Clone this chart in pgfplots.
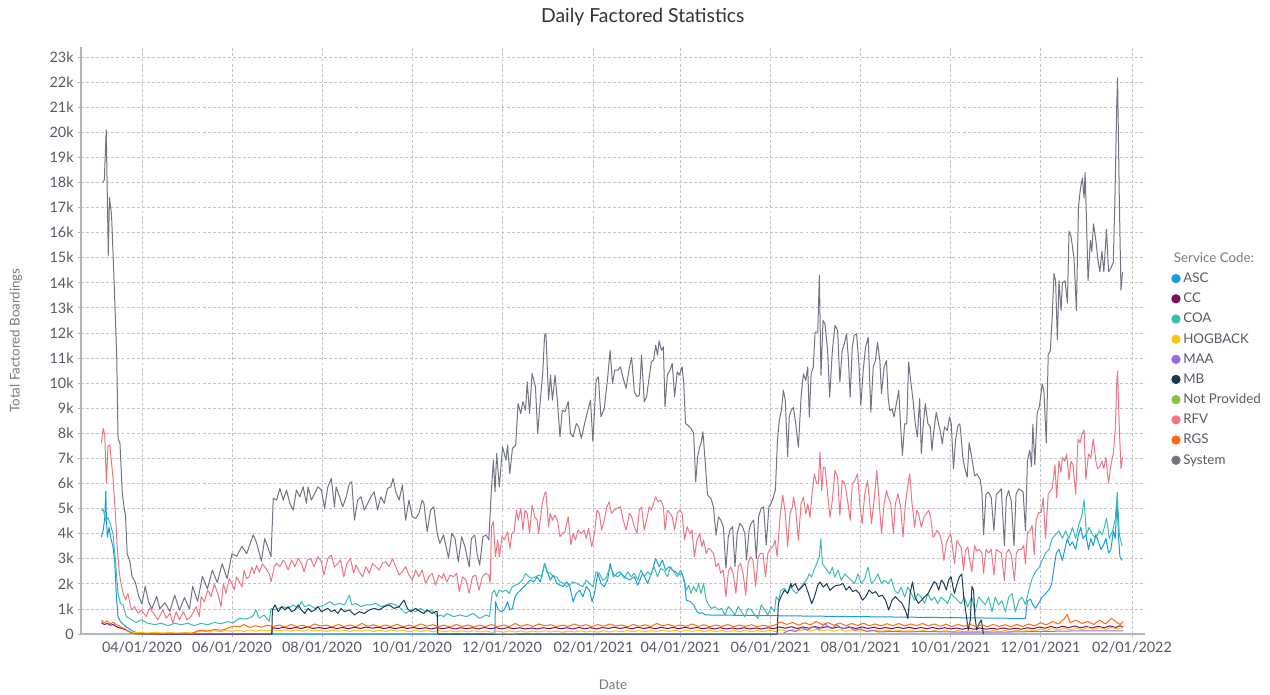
\documentclass[border=0pt]{standalone}
\usepackage{pgfplots}
\pgfplotsset{compat=1.18}
\usepackage{fontspec}
\setmainfont{Lato}
\definecolor{cASC}{HTML}{1A9BE0}
\definecolor{cCC}{HTML}{7D0E5C}
\definecolor{cCOA}{HTML}{3DBCB4}
\definecolor{cHOG}{HTML}{F5C518}
\definecolor{cMAA}{HTML}{9B6BDB}
\definecolor{cMB}{HTML}{1B3A57}
\definecolor{cNP}{HTML}{8CBF3F}
\definecolor{cRFV}{HTML}{EE7585}
\definecolor{cRGS}{HTML}{FF6A10}
\definecolor{cSYS}{HTML}{707480}
\definecolor{txt}{HTML}{555A64}
\definecolor{lbl}{HTML}{7A7A7A}
\definecolor{gridc}{HTML}{C4C4C4}
\definecolor{axc}{HTML}{B0B4BE}
\begin{document}
\begin{tikzpicture}
\path[use as bounding box] (-60.75pt,-45pt) rectangle (891.75pt,475.5pt);
\begin{axis}[
  scale only axis, width=798pt, height=440.25pt,
  xmin=49.7, xmax=770.8, ymin=0, ymax=23.4,
  axis x line*=bottom, axis y line*=left,
  axis line style={axc, line width=0.8pt},
  xtick={91,152,213,274,335,397,456,517,578,639,700,762},
  xticklabels={04/01/2020,06/01/2020,08/01/2020,10/01/2020,12/01/2020,02/01/2021,04/01/2021,06/01/2021,08/01/2021,10/01/2021,12/01/2021,02/01/2022},
  ytick={0,1,...,23},
  yticklabels={0,1k,2k,3k,4k,5k,6k,7k,8k,9k,10k,11k,12k,13k,14k,15k,16k,17k,18k,19k,20k,21k,22k,23k},
  tick align=outside, major tick length=2.5pt,
  tick style={axc, line width=0.6pt},
  ticklabel style={font=\fontsize{10.8}{12}\selectfont, text=txt},
  yticklabel style={xshift=0.5pt},
  grid=major,
  major grid style={gridc, line width=0.6pt, dash pattern=on 2.2pt off 1.6pt},
  title={Daily Factored Statistics},
  title style={at={(0.528,1)}, anchor=center, yshift=16.5pt, font=\fontsize{14.5}{16}\selectfont, text=black!80},
  xlabel={Date}, ylabel={Total Factored Boardings},
  every axis x label/.style={at={(axis description cs:0.5,-0.0869)}, anchor=center, font=\fontsize{10}{11}\selectfont, text=lbl},
  every axis y label/.style={at={(axis description cs:-0.0611,0.5)}, rotate=90, anchor=center, font=\fontsize{10}{11}\selectfont, text=lbl},
  legend style={at={(1.0245,0.655)}, anchor=north west, draw=none, fill=none, font=\fontsize{10}{11.5}\selectfont, text=txt, row sep=2.4pt, inner sep=0pt},
  legend cell align=left,
  legend image code/.code={\fill[#1] (0.1cm,0cm) circle (3.1pt);},
  every axis plot/.append style={line width=0.75pt, line join=round, mark=none},
]
\addlegendimage{empty legend}
\addlegendentry{\hspace*{-7pt}\textcolor{lbl}{Service Code:}}

% ASC
\addplot[cASC] coordinates {(63.5,3.86)(64.7,4.11)(65.8,4.64)(66.5,5.70)(66.9,4.64)(67.6,3.86)(68.7,4.25)(69.8,3.86)(71.4,3.46)(72.5,2.93)(73.7,1.49)(74.8,0.70)(76.4,0.50)(78.6,0.37)(81.5,0.24)(84.9,0.11)(88.3,0.04)(90.5,0.0)(330.2,0)(330.6,1.29)(332.1,1.02)(334.3,0.89)(336.6,0.96)(338.8,1.29)(340.3,0.96)(342.1,1.02)(343.9,1.49)(345.4,1.62)(347.7,1.75)(349.9,1.89)(352.1,2.02)(354.3,2.15)(356.6,2.08)(358.8,2.28)(361.0,2.08)(363.9,2.82)(365.4,2.55)(367.7,2.15)(369.9,2.35)(372.1,2.02)(374.3,1.95)(376.6,1.89)(378.8,2.08)(381.0,1.89)(383.2,1.29)(385.4,1.62)(387.7,1.75)(389.9,1.49)(392.1,1.89)(394.3,1.75)(396.1,1.29)(397.7,1.62)(399.9,2.42)(402.1,2.02)(404.3,1.89)(406.6,2.15)(408.3,2.82)(410.5,2.28)(413.2,2.42)(414.7,2.48)(418.0,2.28)(421.4,2.15)(424.7,2.28)(427.0,1.95)(430.3,2.42)(433.7,2.02)(437.0,2.55)(439.2,3.01)(441.5,2.68)(443.7,2.95)(445.9,2.55)(448.2,2.68)(450.4,2.55)(452.6,2.48)(454.9,2.35)(457.1,2.42)(458.7,2.02)(460.0,1.35)(462.7,1.29)(464.9,1.16)(467.2,0.89)(469.0,0.82)(470.5,0.85)(472.8,0.76)(689.8,0.62)(691.1,1.32)(693.2,1.39)(694.8,1.17)(696.6,1.03)(698.9,1.25)(701.1,1.47)(703.4,1.61)(705.7,1.76)(707.5,1.98)(709.1,2.64)(710.7,3.23)(712.5,3.37)(714.8,2.93)(715.9,3.23)(718.2,3.81)(719.8,3.52)(721.6,3.67)(723.8,3.37)(725.7,3.96)(727.3,4.25)(728.8,3.81)(730.7,3.96)(732.5,3.37)(734.1,3.81)(735.7,3.52)(737.5,3.96)(739.3,3.67)(740.9,3.37)(742.5,3.52)(744.3,3.81)(746.1,3.23)(747.7,3.37)(749.3,4.11)(750.6,3.81)(751.8,5.28)(752.9,3.81)(753.8,3.08)(755.2,2.93)};
\addlegendentry{ASC}

% CC
\addplot[cCC] coordinates {(63.5,0.45)(65.5,0.38)(67.5,0.42)(69.5,0.35)(71.5,0.38)(73.5,0.30)(75.5,0.25)(77.5,0.22)(79.5,0.18)(81.5,0.12)(83.5,0.06)(86,0.02)(100,0.0)(179,0.0)(179.5,0.25)(183,0.22)(187,0.27)(191,0.21)(195,0.26)(199,0.22)(203,0.28)(207,0.22)(211,0.26)(215,0.21)(219,0.27)(223,0.22)(227,0.26)(231,0.21)(235,0.27)(239,0.22)(243,0.28)(247,0.23)(251,0.27)(255,0.22)(259,0.26)(263,0.21)(267,0.27)(271,0.22)(275,0.26)(279,0.21)(283,0.25)(287,0.20)(291,0.25)(295,0.21)(299,0.26)(303,0.20)(307,0.25)(311,0.21)(315,0.25)(319,0.20)(323,0.26)(327,0.21)(331,0.25)(335,0.20)(339,0.26)(343,0.21)(347,0.25)(351,0.20)(355,0.24)(359,0.20)(363,0.25)(367,0.21)(371,0.26)(375,0.21)(379,0.25)(383,0.20)(387,0.26)(391,0.21)(395,0.25)(399,0.20)(403,0.26)(407,0.22)(411,0.27)(415,0.22)(419,0.26)(423,0.21)(427,0.27)(431,0.22)(435,0.26)(439,0.21)(443,0.27)(447,0.22)(451,0.26)(455,0.21)(459,0.27)(463,0.22)(467,0.26)(471,0.21)(475,0.25)(479,0.20)(483,0.25)(487,0.20)(491,0.24)(495,0.20)(499,0.25)(503,0.20)(507,0.24)(511,0.20)(515,0.25)(519,0.21)(523,0.28)(527,0.23)(531,0.29)(535,0.22)(539,0.28)(543,0.23)(547,0.30)(551,0.24)(555,0.29)(559,0.23)(563,0.28)(567,0.22)(571,0.27)(575,0.22)(579,0.28)(583,0.22)(587,0.27)(591,0.21)(595,0.26)(599,0.21)(603,0.27)(607,0.22)(611,0.27)(615,0.21)(619,0.26)(623,0.21)(627,0.26)(631,0.20)(635,0.25)(639,0.20)(643,0.24)(647,0.19)(651,0.24)(655,0.19)(659,0.24)(663,0.19)(667,0.23)(671,0.19)(675,0.24)(679,0.19)(683,0.23)(687,0.19)(691,0.25)(695,0.21)(699,0.28)(703,0.23)(707,0.30)(711,0.24)(715,0.31)(719,0.25)(723,0.32)(727,0.25)(731,0.30)(735,0.24)(739,0.31)(743,0.25)(747,0.32)(751,0.26)(754,0.33)(756,0.28)};
\addlegendentry{CC}

% COA
\addplot[cCOA] coordinates {(63.5,4.91)(64.7,4.97)(66.5,4.51)(68.0,4.64)(69.6,4.38)(71.4,3.99)(73.2,2.80)(74.8,1.62)(76.4,1.22)(78.2,1.16)(80.4,0.70)(83.8,0.57)(87.2,0.46)(90.5,0.57)(95.1,0.43)(99.6,0.37)(104.1,0.43)(108.6,0.33)(113.1,0.43)(117.6,0.37)(122.1,0.43)(126.6,0.33)(131.1,0.43)(135.6,0.37)(140.1,0.46)(144.6,0.41)(149.1,0.50)(152.5,0.43)(157.0,0.63)(161.5,0.59)(166.0,0.70)(168.2,0.96)(170.5,0.63)(173.8,0.76)(177.2,0.50)(178.5,1.02)(180.7,0.96)(183.4,1.02)(186.8,1.09)(190.1,1.02)(193.5,1.16)(196.9,1.02)(199.1,1.29)(201.3,1.09)(204.7,1.16)(208.1,1.02)(211.4,1.09)(214.8,1.16)(218.2,1.29)(221.5,1.16)(224.9,1.22)(228.3,1.16)(231.6,1.55)(233.2,1.16)(236.1,1.22)(239.5,1.09)(242.8,1.16)(246.2,1.16)(249.6,1.22)(252.9,1.09)(256.3,1.16)(259.7,1.22)(263.0,1.16)(266.4,1.02)(269.7,0.82)(273.1,0.96)(276.5,0.89)(279.8,1.02)(283.2,0.89)(286.6,0.96)(288.8,0.89)(291.1,0.69)(293.3,0.76)(295.5,0.69)(297.7,0.82)(302.1,0.69)(306.6,0.76)(311.0,0.69)(315.4,0.82)(319.9,0.62)(324.3,0.76)(326.6,0.69)(328.3,1.62)(329.9,1.75)(331.4,1.49)(333.2,1.75)(335.4,1.69)(337.7,1.75)(339.9,1.62)(342.1,1.89)(344.3,1.95)(346.6,2.02)(348.8,2.15)(351.0,2.42)(353.2,2.28)(355.4,2.22)(357.7,2.28)(359.9,2.35)(362.1,2.28)(363.9,2.82)(365.4,2.48)(367.7,2.42)(369.9,2.28)(372.1,2.28)(374.3,2.08)(376.6,2.02)(378.8,1.89)(381.0,1.95)(383.2,2.08)(385.4,2.02)(387.7,1.95)(389.9,1.89)(392.1,2.15)(394.3,2.02)(396.6,1.89)(398.8,2.48)(401.0,2.42)(403.2,2.15)(405.4,2.22)(408.3,2.68)(411.0,2.35)(413.6,2.28)(415.8,2.42)(418.0,2.22)(420.3,2.48)(422.5,2.28)(424.7,2.42)(427.0,2.15)(429.2,2.55)(431.4,2.28)(433.7,2.48)(435.9,2.35)(438.1,2.68)(440.4,2.28)(442.6,2.62)(444.8,2.55)(447.1,2.28)(449.3,2.68)(451.5,2.48)(453.8,2.28)(456.0,2.55)(458.2,2.22)(460.0,1.75)(461.6,1.95)(463.1,1.62)(464.9,1.89)(466.7,1.69)(468.3,2.02)(469.9,1.62)(471.6,2.02)(473.4,1.35)(475.0,1.16)(477.2,1.02)(479.5,1.09)(481.7,0.96)(483.9,1.02)(486.2,0.76)(488.4,1.09)(490.6,0.96)(492.9,0.76)(495.1,1.09)(497.3,0.89)(499.6,0.69)(501.8,1.02)(504.0,0.96)(506.3,0.76)(508.5,0.62)(510.7,1.16)(513.0,0.96)(515.2,0.76)(517.4,1.09)(519.7,0.89)(520.8,1.49)(522.3,1.35)(524.1,1.75)(526.4,1.82)(528.6,1.62)(530.8,1.89)(532.4,1.74)(534.7,1.61)(536.9,1.81)(539.2,2.01)(541.4,2.14)(543.2,2.40)(544.8,2.27)(546.4,2.54)(548.2,2.80)(550.0,3.07)(551.1,3.80)(552.2,2.80)(553.8,2.67)(555.4,2.54)(557.2,2.40)(559.0,2.67)(560.5,2.27)(562.8,2.54)(565.0,2.14)(567.3,2.40)(569.5,2.27)(571.8,2.14)(574.0,2.01)(576.3,2.40)(578.5,2.01)(580.8,2.20)(583.1,2.67)(585.3,2.01)(587.6,2.14)(589.8,2.40)(592.1,2.01)(594.3,2.14)(596.6,2.01)(598.8,2.20)(601.1,1.74)(603.3,1.61)(605.6,1.87)(607.9,1.47)(610.1,1.87)(612.4,1.61)(614.6,1.34)(616.9,1.61)(619.1,1.47)(621.4,1.21)(623.6,1.61)(625.9,1.34)(628.1,1.47)(630.3,1.21)(632.6,1.47)(634.9,1.34)(637.1,1.21)(639.4,1.61)(641.6,1.47)(643.8,1.34)(646.1,1.21)(648.4,1.47)(650.6,1.08)(653.4,1.47)(655.7,0.88)(658.0,1.47)(660.3,1.32)(662.5,1.17)(664.8,1.47)(667.1,0.88)(669.3,1.47)(671.6,1.17)(673.9,1.32)(676.2,0.88)(678.4,1.47)(680.7,1.61)(683.0,0.88)(685.2,1.32)(687.5,1.47)(689.8,1.17)(692.1,1.76)(694.3,2.20)(696.6,2.49)(698.9,2.64)(701.1,2.93)(703.4,3.23)(705.7,3.37)(707.9,3.81)(710.2,3.96)(712.5,4.11)(714.8,3.81)(717.0,4.11)(719.3,3.81)(721.6,4.25)(723.8,3.81)(726.1,4.40)(727.9,4.69)(729.5,5.35)(731.1,3.96)(732.9,4.25)(735.2,3.96)(737.5,3.81)(739.7,4.11)(742.0,3.96)(744.7,4.62)(746.6,3.81)(748.8,4.11)(750.6,4.55)(752.0,5.65)(753.4,3.96)(755.2,3.52)};
\addlegendentry{COA}

% HOGBACK
\addplot[cHOG] coordinates {(84,0.05)(90,0.06)(95,0.04)(100,0.07)(105,0.04)(110,0.06)(115,0.03)(120,0.06)(125,0.04)(128,0.08)(132,0.12)(136,0.08)(140,0.13)(144,0.09)(148,0.14)(152,0.10)(156,0.15)(160,0.10)(164,0.16)(168,0.11)(172,0.16)(176,0.12)(180,0.17)(184,0.12)(188,0.17)(192,0.11)(196,0.16)(200,0.11)(204,0.17)(208,0.12)(212,0.16)(216,0.10)(220,0.16)(224,0.11)(228,0.15)(232,0.10)(236,0.16)(240,0.11)(244,0.16)(248,0.10)(252,0.15)(256,0.10)(260,0.16)(264,0.11)(268,0.15)(272,0.09)(276,0.15)(280,0.10)(284,0.14)(288,0.09)(292,0.14)(296,0.09)(300,0.13)(304,0.08)(308,0.13)(312,0.08)(316,0.13)(320,0.08)(324,0.12)(328,0.07)(332,0.12)(336,0.07)(340,0.13)(344,0.08)(348,0.12)(352,0.07)(356,0.12)(360,0.08)(364,0.13)(368,0.08)(372,0.12)(376,0.07)(380,0.12)(384,0.08)(388,0.13)(392,0.08)(396,0.12)(400,0.07)(404,0.13)(408,0.08)(412,0.13)(416,0.09)(420,0.14)(424,0.09)(428,0.14)(432,0.09)(436,0.14)(440,0.10)(444,0.15)(448,0.10)(452,0.15)(456,0.10)(460,0.15)(464,0.10)(468,0.15)(472,0.10)(476,0.15)(480,0.09)(484,0.14)(488,0.09)(492,0.14)(496,0.09)(500,0.14)(504,0.09)(508,0.14)(512,0.09)(516,0.15)(520,0.10)(524,0.17)(528,0.11)(532,0.18)(536,0.12)(540,0.18)(544,0.11)(548,0.18)(552,0.12)(556,0.17)(560,0.11)(564,0.17)(568,0.11)(572,0.17)(576,0.11)(580,0.16)(584,0.10)(588,0.16)(592,0.10)(596,0.16)(600,0.10)(604,0.15)(608,0.10)(612,0.15)(616,0.09)(620,0.15)(624,0.09)(628,0.14)(632,0.09)(636,0.14)(640,0.08)(644,0.14)(648,0.08)(652,0.13)(656,0.08)(660,0.13)(664,0.08)(668,0.14)(672,0.09)(676,0.14)(680,0.09)(684,0.15)(688,0.10)(692,0.17)(696,0.12)(700,0.20)(704,0.14)(708,0.22)(712,0.15)(716,0.24)(720,0.16)(724,0.25)(728,0.17)(732,0.26)(736,0.18)(740,0.26)(744,0.18)(748,0.27)(752,0.20)(756,0.28)};
\addlegendentry{HOGBACK}

% MAA
\addplot[cMAA] coordinates {(526,0.05)(530,0.15)(534,0.10)(538,0.25)(542,0.15)(546,0.30)(550,0.18)(554,0.40)(558,0.22)(562,0.35)(566,0.20)(570,0.30)(574,0.15)(578,0.20)(582,0.10)(586,0.15)(590,0.08)(600,0.10)(610,0.08)(620,0.10)(640,0.08)(660,0.08)(680,0.08)(700,0.10)(720,0.12)(740,0.12)(756,0.12)};
\addlegendentry{MAA}

% MB
\addplot[cMB] coordinates {(179.0,0)(179.4,0.96)(181.2,1.16)(183.4,0.89)(185.6,1.09)(187.9,0.96)(190.1,1.09)(192.4,0.89)(194.6,0.96)(196.9,1.16)(199.1,0.96)(201.3,0.82)(203.6,1.02)(205.8,0.89)(208.1,0.96)(210.3,1.09)(212.6,0.89)(214.8,0.96)(217.0,1.02)(219.3,0.89)(221.5,0.96)(223.8,0.82)(226.0,1.02)(228.3,0.89)(231.6,0.96)(235.0,0.76)(238.3,0.89)(241.7,0.82)(245.1,0.96)(248.4,1.02)(251.8,0.96)(255.2,1.09)(258.5,1.16)(261.9,1.02)(265.3,1.09)(268.6,1.35)(270.9,1.02)(273.1,0.89)(276.5,1.02)(279.8,0.89)(282.1,0.82)(284.3,0.96)(287.7,0.82)(289.9,0.89)(291.1,0.89)(291.5,0)(521.5,0)(522.3,1.22)(524.1,1.49)(526.4,1.75)(528.6,1.62)(530.8,2.02)(531.4,1.87)(533.7,2.01)(535.9,1.74)(538.2,1.87)(540.4,2.01)(542.7,1.61)(544.9,1.21)(546.7,1.47)(549.0,1.94)(550.5,2.07)(552.8,1.87)(555.0,2.01)(557.3,1.74)(559.5,1.87)(561.8,1.94)(563.8,1.95)(566.0,2.02)(568.2,1.75)(570.4,1.89)(572.7,1.69)(574.9,1.75)(577.1,1.62)(579.3,1.35)(581.6,1.49)(583.8,1.75)(586.0,1.62)(588.2,1.69)(590.5,1.49)(592.7,1.55)(594.9,1.35)(597.1,0.96)(599.4,1.35)(601.6,1.49)(603.8,1.35)(606.1,1.22)(608.3,0.96)(610.1,0.62)(611.6,1.62)(613.2,2.08)(614.9,1.49)(617.2,1.22)(619.4,1.35)(621.6,1.49)(623.9,1.62)(626.1,1.89)(627.9,2.08)(629.4,2.02)(631.0,1.75)(632.8,2.15)(634.5,2.02)(636.1,1.75)(637.7,2.15)(639.4,2.28)(640.6,1.89)(641.7,1.62)(643.5,2.02)(645.0,2.28)(646.6,2.39)(647.9,1.49)(649.5,0.82)(651.0,0.16)(652.4,0.56)(653.5,1.89)(654.6,1.75)(655.5,0.69)(656.8,0.16)(658.4,0.42)(659.9,0.56)(661.3,0)};
\addlegendentry{MB}

% Not Provided
\addplot[cNP] coordinates {(330,0.01)(338,0.02)(345,0.01)};
\addlegendentry{Not Provided}

% RFV
\addplot[cRFV] coordinates {(63.5,7.61)(64.7,8.20)(65.8,7.93)(66.9,6.03)(68.0,7.47)(69.2,7.54)(71.4,6.22)(73.2,4.64)(74.1,3.59)(75.5,2.54)(76.4,2.14)(78.2,1.62)(80.0,1.36)(81.5,1.62)(83.8,0.96)(86.0,1.09)(88.3,0.83)(90.5,0.96)(93.9,0.70)(96.2,1.03)(98.9,0.83)(101.8,0.57)(105.2,0.96)(107.4,0.63)(110.1,0.83)(111.9,0.43)(114.2,0.89)(116.4,0.57)(119.1,0.89)(121.4,0.57)(124.3,0.70)(127.7,1.09)(129.9,0.70)(131.1,1.49)(133.3,1.29)(135.6,1.75)(137.8,1.49)(140.1,2.01)(142.3,1.62)(144.6,1.09)(146.2,2.01)(147.9,1.62)(150.2,2.21)(152.0,2.01)(153.6,1.75)(155.2,2.28)(157.0,2.08)(158.8,1.88)(160.3,2.54)(161.9,2.21)(163.7,2.28)(165.5,2.67)(167.1,2.41)(168.7,2.74)(170.5,2.47)(172.7,2.80)(175.0,2.61)(177.2,2.41)(178.5,2.08)(180.7,2.68)(182.3,2.82)(184.5,2.68)(186.8,2.95)(188.3,2.82)(190.1,2.55)(192.4,2.95)(194.6,2.68)(196.9,3.01)(199.1,2.82)(200.9,2.48)(203.1,2.95)(205.4,3.01)(207.6,2.68)(210.3,3.08)(212.6,2.88)(214.3,2.35)(217.0,3.01)(219.3,3.15)(221.5,2.68)(223.8,2.82)(225.6,2.95)(227.8,2.28)(230.0,2.82)(232.3,3.01)(234.5,2.42)(236.1,2.75)(238.3,2.48)(240.6,2.28)(242.8,2.68)(245.1,2.42)(247.3,2.82)(249.6,2.68)(251.8,2.55)(254.0,2.82)(256.3,2.88)(258.5,2.68)(260.8,3.01)(263.0,2.68)(265.3,2.35)(267.5,2.48)(269.7,2.68)(272.0,2.35)(274.2,2.15)(276.5,2.55)(278.7,2.28)(280.9,2.55)(283.2,2.02)(285.4,2.28)(287.7,2.42)(289.9,1.95)(292.2,2.35)(294.4,2.22)(295.4,2.42)(297.7,2.08)(299.9,2.35)(302.1,2.28)(304.3,2.42)(306.1,1.69)(308.3,2.28)(310.6,2.15)(312.8,1.62)(315.0,2.28)(317.2,2.35)(319.4,1.75)(321.7,2.28)(323.9,2.42)(326.1,2.35)(327.0,2.02)(327.9,4.28)(329.2,4.48)(330.6,3.08)(332.1,3.75)(333.2,3.08)(335.0,3.88)(336.6,3.75)(338.8,4.08)(340.3,3.41)(341.7,4.01)(343.2,4.08)(344.8,4.94)(346.1,4.54)(347.7,5.01)(349.2,4.14)(350.6,4.94)(352.1,4.81)(353.7,4.01)(355.4,5.14)(357.2,4.67)(358.8,4.54)(359.9,4.01)(362.1,5.14)(363.9,5.60)(364.8,5.67)(366.6,4.28)(367.7,4.81)(369.2,4.54)(371.0,4.74)(372.8,4.48)(374.3,3.88)(375.9,4.01)(377.7,4.08)(379.9,4.67)(381.7,3.55)(383.2,4.01)(384.8,3.75)(386.6,4.14)(388.8,4.01)(390.6,4.14)(392.1,3.81)(393.7,4.21)(395.9,3.48)(397.7,4.01)(399.4,4.94)(401.0,4.81)(402.5,4.14)(404.3,4.54)(406.1,5.07)(407.7,5.27)(409.2,4.81)(411.0,4.94)(413.2,5.01)(415.3,5.07)(416.9,4.61)(419.1,4.14)(421.4,4.81)(422.9,4.67)(424.7,4.28)(426.5,4.01)(428.1,4.94)(429.6,5.07)(431.4,4.14)(433.0,4.54)(434.8,5.07)(436.3,4.94)(437.7,5.21)(439.2,5.47)(440.7,5.27)(442.6,5.34)(444.4,5.07)(445.5,4.14)(447.1,4.94)(448.9,4.81)(450.4,4.67)(452.0,4.14)(453.8,4.81)(455.6,4.94)(457.1,4.81)(458.7,3.75)(460.5,4.28)(462.3,4.01)(463.8,4.14)(465.4,3.08)(467.2,3.75)(469.0,4.01)(470.5,3.48)(471.6,3.75)(473.4,3.21)(475.0,3.41)(476.6,3.35)(478.3,3.21)(480.1,2.68)(481.7,2.82)(483.3,2.42)(485.0,2.55)(486.8,1.49)(488.4,2.48)(490.0,2.68)(491.7,2.42)(493.5,1.62)(495.1,2.68)(496.7,2.82)(498.4,2.42)(500.2,1.55)(501.8,2.82)(503.4,3.08)(505.1,2.95)(506.9,1.89)(508.5,3.01)(510.1,3.21)(511.9,3.21)(513.6,2.28)(515.2,3.21)(516.8,3.41)(518.6,3.48)(520.1,3.75)(521.5,3.08)(522.6,4.01)(523.7,4.81)(525.3,5.54)(527.0,4.81)(528.6,3.48)(530.2,4.81)(531.9,5.07)(532.5,5.46)(534.1,4.93)(535.9,3.73)(537.7,5.19)(539.3,5.46)(540.9,4.79)(542.2,5.19)(543.8,4.66)(544.9,5.46)(546.7,6.39)(548.3,5.99)(549.4,5.99)(550.5,7.25)(551.7,5.72)(552.8,6.65)(553.9,6.65)(555.7,5.59)(557.3,4.66)(558.9,5.33)(560.7,6.52)(562.5,6.25)(564.0,4.73)(565.6,6.12)(567.4,5.99)(569.2,5.33)(571.0,4.53)(572.4,5.99)(574.2,6.12)(576.0,6.39)(577.5,5.19)(579.1,4.40)(580.9,5.59)(582.7,6.12)(584.3,5.19)(585.4,4.40)(587.2,5.33)(589.0,6.52)(590.4,5.46)(592.2,4.00)(594.0,5.19)(595.6,5.72)(596.7,5.46)(598.5,5.19)(600.3,4.00)(601.6,5.19)(603.4,5.59)(605.2,5.06)(606.8,3.86)(608.4,5.19)(610.2,5.99)(611.3,6.39)(612.9,5.19)(614.7,4.26)(616.1,4.93)(617.4,4.79)(619.2,4.26)(621.0,4.66)(622.6,4.79)(624.2,4.93)(625.5,4.66)(627.1,3.86)(628.2,3.92)(629.8,4.13)(631.6,4.00)(633.2,3.60)(634.5,2.93)(636.1,3.60)(637.7,3.86)(639.1,4.00)(640.6,3.33)(641.8,2.80)(643.3,3.73)(644.5,3.60)(646.2,3.47)(647.8,2.54)(649.1,3.33)(650.7,3.47)(651.6,3.08)(653.4,2.49)(655.3,3.52)(656.9,3.30)(658.4,3.37)(660.3,3.23)(661.4,2.42)(663.0,3.37)(664.8,3.23)(666.6,3.37)(668.4,2.35)(670.0,3.37)(671.6,3.30)(673.4,3.23)(675.5,2.13)(676.8,3.23)(678.4,3.37)(680.2,3.15)(682.3,2.13)(683.6,3.23)(685.2,3.37)(687.1,3.37)(688.6,3.52)(689.8,2.79)(691.1,4.03)(692.7,4.11)(694.3,4.33)(695.7,3.15)(697.0,4.55)(698.9,4.84)(700.5,4.84)(701.8,5.43)(703.4,3.81)(705.2,5.57)(706.8,5.72)(707.9,5.79)(709.8,6.74)(710.9,5.43)(712.5,6.89)(713.9,6.45)(714.8,7.04)(716.4,6.89)(717.7,7.18)(719.3,6.16)(720.7,6.89)(722.0,6.74)(723.8,5.57)(725.4,7.77)(726.8,7.62)(727.9,7.92)(729.5,8.14)(730.7,6.16)(732.5,7.18)(734.1,7.04)(735.7,7.77)(737.5,6.89)(738.6,6.60)(740.2,6.67)(741.6,6.89)(742.9,6.60)(744.3,7.04)(746.1,6.01)(747.7,6.74)(749.3,7.18)(750.7,8.21)(751.6,9.97)(752.2,10.48)(753.4,8.21)(754.5,6.60)(755.6,7.04)};
\addlegendentry{RFV}

% RGS
\addplot[cRGS] coordinates {(63.5,0.55)(65.5,0.45)(67.5,0.52)(69.5,0.40)(71.5,0.47)(73.5,0.38)(75.5,0.33)(77.5,0.25)(79.5,0.20)(81.5,0.12)(83.5,0.05)(86,0.01)(95,0.0)(110,0.02)(125,0.03)(130,0.15)(135,0.12)(140,0.18)(145,0.15)(150,0.25)(153,0.32)(157,0.28)(160,0.38)(164,0.26)(168,0.33)(172,0.27)(176,0.35)(180,0.30)(184,0.36)(188,0.28)(192,0.38)(196,0.30)(200,0.35)(204,0.27)(208,0.40)(212,0.32)(216,0.36)(220,0.28)(224,0.38)(228,0.30)(232,0.36)(236,0.29)(240,0.42)(244,0.31)(248,0.37)(252,0.28)(256,0.36)(260,0.30)(264,0.39)(268,0.29)(272,0.36)(276,0.30)(280,0.40)(284,0.31)(288,0.37)(292,0.30)(296,0.35)(300,0.28)(304,0.38)(308,0.30)(312,0.36)(316,0.28)(320,0.35)(324,0.30)(328,0.38)(332,0.29)(336,0.36)(340,0.30)(344,0.42)(348,0.31)(352,0.38)(356,0.30)(360,0.40)(364,0.33)(368,0.37)(372,0.29)(376,0.36)(380,0.30)(384,0.40)(388,0.31)(392,0.37)(396,0.29)(400,0.38)(404,0.31)(408,0.40)(412,0.32)(416,0.36)(420,0.29)(424,0.38)(428,0.31)(432,0.37)(436,0.30)(440,0.42)(444,0.33)(448,0.38)(452,0.30)(456,0.36)(460,0.31)(464,0.40)(468,0.30)(472,0.37)(476,0.29)(480,0.36)(484,0.30)(488,0.38)(492,0.29)(496,0.36)(500,0.30)(504,0.37)(508,0.29)(512,0.35)(516,0.30)(520,0.36)(524,0.48)(528,0.38)(532,0.46)(536,0.35)(540,0.45)(544,0.36)(548,0.50)(552,0.38)(556,0.45)(560,0.35)(564,0.44)(568,0.33)(572,0.42)(576,0.34)(580,0.43)(584,0.33)(588,0.40)(592,0.32)(596,0.41)(600,0.33)(604,0.42)(608,0.32)(612,0.40)(616,0.33)(620,0.42)(624,0.32)(628,0.40)(632,0.31)(636,0.39)(640,0.30)(644,0.38)(648,0.31)(652,0.39)(656,0.30)(660,0.37)(664,0.29)(668,0.38)(672,0.30)(676,0.37)(680,0.29)(684,0.38)(688,0.30)(692,0.40)(696,0.32)(700,0.45)(704,0.36)(708,0.50)(712,0.40)(716,0.60)(718,0.78)(720,0.45)(724,0.55)(728,0.42)(732,0.50)(736,0.38)(740,0.55)(744,0.40)(748,0.62)(752,0.45)(754,0.38)(756,0.50)};
\addlegendentry{RGS}

% System
\addplot[cSYS] coordinates {(64.4,18.0)(65.5,18.1)(66.8,20.1)(68.2,15.1)(69.0,17.4)(70.4,16.7)(72.1,14.1)(73.9,11.1)(74.8,7.8)(76.1,7.6)(77.7,5.6)(78.8,5.1)(79.9,4.7)(81.0,3.2)(82.8,2.9)(84.3,2.3)(86.6,2.05)(88.8,1.5)(91,1.2)(93.2,1.9)(95.4,1.3)(97.7,1.0)(101,1.5)(103.2,1.0)(106.5,1.25)(109.9,0.9)(113.2,1.55)(116.5,0.95)(119.8,1.45)(123.2,1.0)(125.4,1.9)(128.7,1.3)(132,2.3)(135.4,1.8)(138.7,2.55)(142,2.05)(145.4,2.8)(148.7,2.2)(152,3.2)(155.3,3.1)(158.7,3.5)(162,3.2)(166.4,3.95)(168.6,3.65)(172,2.9)(174.2,3.8)(176.4,3.45)(178.5,3.08)(180.0,5.41)(182.3,5.34)(184.5,5.80)(186.8,5.34)(189.0,5.74)(191.2,5.21)(193.5,4.94)(195.7,5.74)(198.0,5.47)(200.2,5.87)(202.5,5.21)(203.6,5.87)(205.8,5.34)(208.1,5.61)(210.3,5.87)(212.6,5.74)(214.8,5.01)(217.0,5.87)(219.3,6.20)(221.5,5.07)(222.6,5.87)(224.9,5.47)(227.1,5.07)(229.4,5.47)(231.6,6.00)(233.2,6.07)(235.0,4.54)(237.2,5.34)(239.5,5.47)(241.7,4.94)(244.0,5.21)(246.2,5.47)(248.4,5.67)(250.7,4.94)(252.9,5.47)(255.2,5.21)(257.4,5.80)(259.7,5.87)(261.2,6.20)(263.0,5.67)(265.3,5.34)(267.5,5.94)(269.7,4.54)(272.0,5.34)(274.2,4.67)(276.5,4.61)(278.7,4.81)(280.9,5.34)(282.1,5.21)(284.3,4.08)(286.6,4.94)(288.8,5.07)(291.1,4.01)(292.9,3.61)(295.4,3.95)(298.8,3.02)(301.0,4.01)(303.2,3.81)(305.4,2.88)(307.7,3.88)(309.9,3.48)(312.8,2.68)(314.3,3.81)(316.6,3.95)(318.1,3.21)(319.9,2.75)(322.1,3.88)(324.3,3.95)(326.1,3.75)(327.7,5.60)(329.2,6.93)(330.3,5.67)(331.4,7.20)(333.2,5.87)(335.4,7.46)(337.7,6.93)(338.8,7.53)(340.3,6.40)(342.1,7.40)(344.3,7.53)(345.9,9.19)(347.7,8.79)(349.2,9.26)(351.0,8.92)(352.1,10.05)(353.7,8.79)(355.4,10.39)(357.7,9.85)(359.2,8.00)(361.0,9.32)(362.6,10.39)(363.9,11.91)(364.8,11.98)(366.6,9.32)(367.9,10.32)(369.2,9.32)(371.0,10.32)(372.6,9.26)(374.3,7.86)(375.9,8.92)(377.7,8.86)(379.9,9.26)(381.4,8.00)(383.2,7.86)(385.4,8.39)(387.0,8.26)(388.8,7.80)(391.0,8.39)(393.2,8.92)(395.0,9.32)(396.6,7.66)(398.8,10.12)(400.3,10.25)(402.1,8.66)(404.3,8.99)(406.6,10.19)(408.3,11.31)(409.9,9.99)(411.4,10.52)(413.6,10.52)(415.3,10.65)(416.9,10.25)(419.1,9.79)(421.4,10.65)(422.9,11.02)(424.7,9.65)(426.5,9.46)(428.1,9.52)(429.6,11.12)(431.4,9.26)(433.0,9.46)(434.8,10.25)(436.3,10.85)(437.7,10.92)(439.2,11.51)(440.4,11.12)(441.5,11.69)(443.0,11.31)(444.4,11.45)(445.5,9.06)(447.1,10.32)(448.9,10.52)(450.4,10.78)(452.0,9.46)(453.8,10.45)(455.1,10.32)(457.1,10.65)(458.2,9.99)(459.4,8.39)(460.9,8.33)(463.1,8.19)(464.9,8.00)(466.3,6.07)(467.6,7.07)(469.0,7.46)(469.9,7.60)(471.2,8.06)(472.8,6.80)(474.3,5.54)(476.6,5.41)(478.3,5.07)(480.1,3.94)(481.7,4.67)(483.3,4.54)(485.0,4.28)(486.8,2.62)(488.4,3.88)(489.5,4.14)(491.3,4.28)(492.9,2.68)(494.4,4.01)(496.2,4.41)(498.0,4.28)(499.6,4.01)(500.7,2.95)(502.5,4.14)(503.8,4.41)(505.6,4.54)(507.4,3.01)(508.9,4.67)(510.7,5.01)(512.3,5.07)(514.1,3.55)(515.9,5.07)(517.4,5.21)(519.0,5.47)(520.3,5.74)(521.7,7.73)(523.0,8.53)(524.4,8.92)(525.7,9.72)(527.0,9.32)(528.6,7.07)(529.7,8.66)(531.0,8.91)(532.5,9.04)(534.1,8.38)(535.9,7.45)(537.7,9.44)(539.3,10.37)(540.9,10.11)(542.2,10.64)(543.3,8.65)(544.5,10.37)(546.0,10.64)(547.2,12.03)(549.0,12.03)(550.1,14.29)(551.2,10.31)(552.6,12.50)(553.9,12.36)(555.7,11.30)(557.1,9.44)(558.9,11.30)(560.7,12.30)(562.5,12.10)(564.0,10.04)(565.6,11.30)(567.0,11.57)(568.5,11.97)(569.7,11.04)(571.0,9.44)(572.4,11.43)(573.7,11.90)(575.3,11.97)(576.9,10.77)(578.2,9.11)(579.8,10.50)(581.4,11.43)(583.2,11.83)(585.0,8.84)(586.6,10.64)(588.1,10.90)(589.5,11.63)(591.1,10.90)(592.2,9.58)(594.0,10.64)(595.6,10.90)(596.7,9.44)(597.8,8.91)(599.4,8.98)(600.7,8.65)(602.3,9.18)(603.9,9.71)(605.2,8.25)(606.4,7.12)(607.9,8.38)(609.3,8.38)(610.6,10.84)(612.0,10.11)(613.6,9.31)(615.1,8.38)(616.5,7.85)(618.1,9.38)(619.2,7.18)(620.3,8.18)(621.9,9.18)(623.7,8.38)(625.3,8.25)(626.4,7.32)(627.7,8.11)(629.3,8.84)(630.9,8.38)(632.2,8.05)(633.4,7.58)(634.9,8.25)(636.8,8.11)(638.3,8.65)(639.5,8.38)(641.0,6.59)(642.4,7.72)(644.0,8.31)(645.3,8.38)(646.2,7.85)(647.3,7.05)(648.5,6.65)(650.3,6.25)(651.6,7.62)(653.4,7.04)(655.3,6.30)(656.9,6.38)(659.1,6.16)(660.3,5.65)(661.4,3.96)(663.0,5.57)(664.8,5.65)(666.6,5.43)(668.4,4.11)(670.0,5.57)(671.6,5.65)(673.4,5.79)(675.5,3.52)(676.8,5.43)(678.4,5.72)(680.2,5.28)(682.0,3.52)(683.4,5.57)(685.2,5.79)(687.1,5.72)(688.2,5.65)(689.8,4.11)(691.1,6.89)(692.7,7.33)(693.9,6.67)(694.8,8.36)(696.1,6.74)(697.7,8.80)(699.3,9.09)(701.1,9.97)(702.3,9.68)(703.9,7.62)(705.2,11.14)(706.6,11.29)(707.9,12.61)(709.1,14.37)(710.2,14.08)(711.4,11.73)(712.5,14.08)(713.9,12.90)(714.8,14.00)(716.6,14.08)(718.2,13.20)(719.3,16.06)(720.7,15.84)(722.7,14.96)(724.3,12.90)(725.7,17.01)(727.0,17.74)(728.4,18.18)(729.5,17.38)(730.2,18.40)(731.1,16.57)(732.2,14.08)(733.8,15.69)(734.7,15.25)(735.9,16.35)(737.5,15.69)(738.8,14.96)(740.2,14.44)(741.6,15.25)(742.9,14.44)(744.7,16.13)(746.1,14.44)(747.7,14.59)(749.3,14.81)(750.4,17.30)(751.6,20.97)(752.2,22.17)(753.4,17.30)(754.5,13.71)(755.6,14.44)};
\addlegendentry{System}
\end{axis}
\end{tikzpicture}
\end{document}
